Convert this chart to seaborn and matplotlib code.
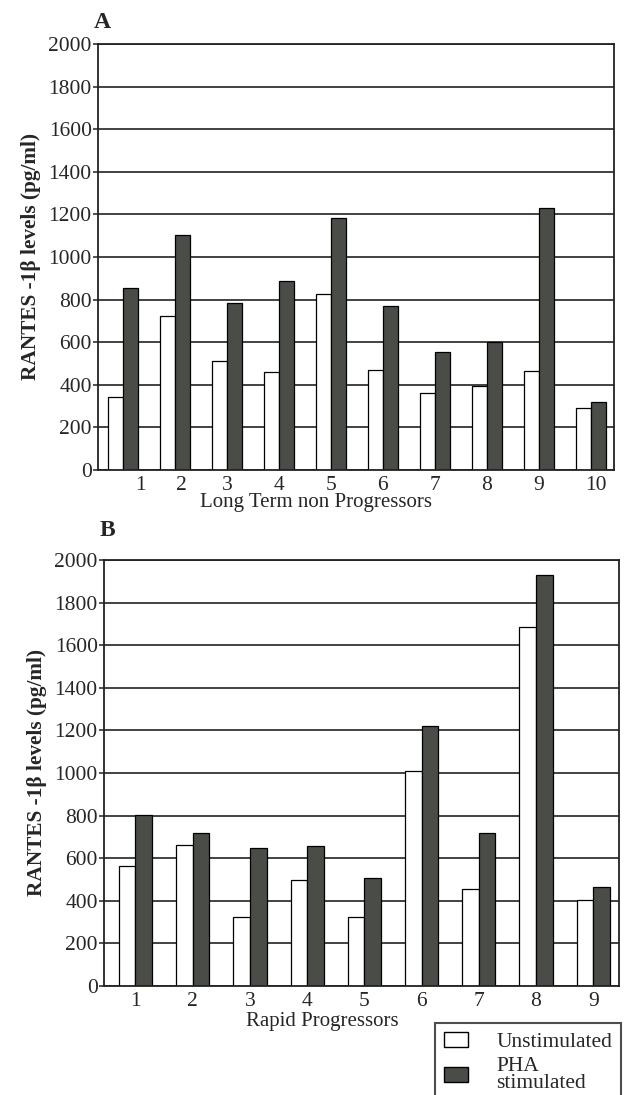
import matplotlib
matplotlib.use("Agg")
import matplotlib.pyplot as plt
from matplotlib.patches import Patch
from matplotlib.transforms import ScaledTranslation
import seaborn as sns
import pandas as pd

# ---------------- data ----------------
ltnp_patients = [1, 2, 3, 4, 5, 6, 7, 8, 9, 10]
ltnp_unstim = [342, 723, 512, 461, 828, 471, 362, 396, 463, 289]
ltnp_pha = [855, 1105, 784, 885, 1184, 770, 556, 603, 1230, 320]

rp_patients = [1, 2, 3, 4, 5, 6, 7, 8, 9]
rp_unstim = [564, 661, 323, 497, 322, 1011, 455, 1686, 403]
rp_pha = [803, 720, 650, 655, 506, 1223, 720, 1930, 467]

conditions = ["Unstimulated", "PHA stimulated"]
legend_labels = ["Unstimulated", "PHA\nstimulated"]
y_ticks = list(range(0, 2001, 200))
ylabel = "RANTES -1β levels (pg/ml)"
xlabel_a = "Long Term non Progressors"
xlabel_b = "Rapid Progressors"

# ---------------- style ----------------
sns.set_theme(style="white")
plt.rcParams["font.family"] = ["Liberation Serif", "DejaVu Serif"]
plt.rcParams["axes.linewidth"] = 1.3
DARK = "#4a4c48"
palette = {conditions[0]: "white", conditions[1]: DARK}
TICK_FS = 15.5

W, H = 630, 1095
fig = plt.figure(figsize=(W / 100, H / 100), dpi=100)


def px_axes(left, right, top, bottom):
    return fig.add_axes([left / W, 1 - bottom / H, (right - left) / W, (bottom - top) / H])


def long_df(patients, unstim, pha):
    return pd.DataFrame({
        "patient": patients * 2,
        "value": unstim + pha,
        "condition": [conditions[0]] * len(patients) + [conditions[1]] * len(patients),
    })


def draw(ax, patients, unstim, pha, xlabel, width, xlim, label_x, label_y, label_shift):
    df = long_df(patients, unstim, pha)
    sns.barplot(data=df, x="patient", y="value", hue="condition", order=patients,
                hue_order=conditions, palette=palette, width=width, dodge=True,
                edgecolor="black", linewidth=0.9, legend=False, ax=ax, errorbar=None,
                saturation=1)
    ax.set_axisbelow(True)
    ax.yaxis.grid(True, color="#222222", linewidth=1.2)
    ax.xaxis.grid(False)
    ax.set_ylim(0, 2000)
    ax.set_yticks(y_ticks)
    ax.set_xlim(*xlim)
    for s in ax.spines.values():
        s.set_visible(True)
        s.set_color("#222222")
        s.set_linewidth(1.3)
    ax.tick_params(axis="y", direction="out", length=3.5, width=1.1, color="#222222",
                   labelsize=TICK_FS, pad=1, left=True)
    ax.tick_params(axis="x", length=0, labelsize=TICK_FS, pad=4)
    ax.set_ylabel(ylabel, fontsize=15.3, fontweight="bold", labelpad=5)
    ax.set_xlabel(xlabel, fontsize=15)
    ax.xaxis.set_label_coords(label_x, label_y)
    for lab, dx in zip(ax.get_xticklabels(), label_shift):
        if dx:
            lab.set_transform(lab.get_transform() + ScaledTranslation(dx / 100, 0, fig.dpi_scale_trans))


ax_a = px_axes(98, 614, 44, 470)
draw(ax_a, ltnp_patients, ltnp_unstim, ltnp_pha, xlabel_a, 0.58, (-0.48, 9.45),
     (316 - 98) / 516, -(493 - 470) / 426, [18, 6, 0, 0, 0, 0, 0, 0, 0, 5])

ax_b = px_axes(104, 619, 560, 986)
draw(ax_b, rp_patients, rp_unstim, rp_pha, xlabel_b, 0.58, (-0.55, 8.45),
     (322 - 104) / 515, -(1012 - 986) / 426, [0] * 9)

fig.text(102 / W, 1 - 22 / H, "A", fontsize=17, fontweight="bold", ha="center", va="center")
fig.text(107 / W, 1 - 530 / H, "B", fontsize=17, fontweight="bold", ha="center", va="center")

handles = [Patch(facecolor=palette[c], edgecolor="black", linewidth=1.0) for c in conditions]
leg = fig.legend(handles, legend_labels, loc="upper left",
                 bbox_to_anchor=(435 / W, 1 - 1023 / H), bbox_transform=fig.transFigure,
                 frameon=True, fancybox=False, fontsize=15.5, handlelength=1.15,
                 handleheight=0.75, handletextpad=1.3, borderpad=0.4, labelspacing=0.25,
                 borderaxespad=0)
leg.get_frame().set_edgecolor("#222222")
leg.get_frame().set_linewidth(1.5)
leg.get_texts()[1].set_linespacing(0.8)

fig.savefig("out.png", dpi=100)
